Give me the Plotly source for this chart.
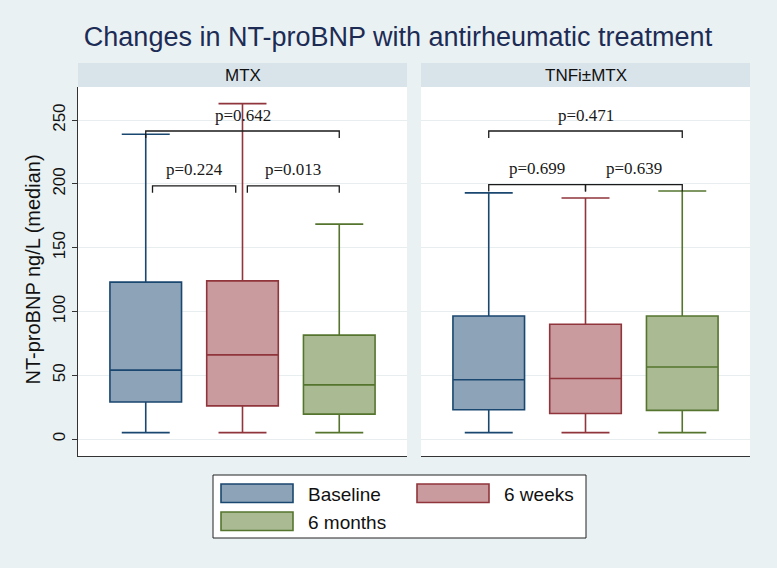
import plotly.graph_objects as go

W, H = 777, 568

PANELS = ["MTX", "TNFi±MTX"]
GROUPS = ["Baseline", "6 weeks", "6 months"]
GROUP_X = [1, 2, 3]

LINE_COLORS = ["#1a476f", "#90353b", "#55752f"]
FILL_COLORS = ["#8da3b8", "#c99a9e", "#aabb93"]

# box statistics (ng/L), in GROUPS order
MTX_LOW = [5, 5, 5]
MTX_Q1 = [29, 26, 19.5]
MTX_MED = [54, 66, 42.5]
MTX_Q3 = [123, 124, 81.5]
MTX_HIGH = [239, 263, 168.5]

TNF_LOW = [5, 5, 5]
TNF_Q1 = [23, 20, 22.5]
TNF_MED = [46.5, 47.5, 56.5]
TNF_Q3 = [96.5, 90, 96.5]
TNF_HIGH = [193, 189, 194.5]

# p-value brackets: x from, x to, bracket height, label
MTX_P_X0 = [1.0, 1.07, 2.05]
MTX_P_X1 = [3.0, 1.93, 3.0]
MTX_P_Y = [241.5, 198.5, 198.5]
MTX_P_TXT = ["p=0.642", "p=0.224", "p=0.013"]

TNF_P_X0 = [1.0, 1.0, 2.0]
TNF_P_X1 = [3.0, 2.0, 3.0]
TNF_P_Y = [241.5, 199.5, 199.5]
TNF_P_TXT = ["p=0.471", "p=0.699", "p=0.639"]

Y_TICKS = [0, 50, 100, 150, 200, 250]

SANS = "Liberation Sans, Arial, sans-serif"
SERIF = "Liberation Serif, Times New Roman, serif"


def px_x(v):
    return v / W


def px_y(v):
    return 1 - v / H


panel_data = [
    (MTX_LOW, MTX_Q1, MTX_MED, MTX_Q3, MTX_HIGH, MTX_P_X0, MTX_P_X1, MTX_P_Y, MTX_P_TXT),
    (TNF_LOW, TNF_Q1, TNF_MED, TNF_Q3, TNF_HIGH, TNF_P_X0, TNF_P_X1, TNF_P_Y, TNF_P_TXT),
]

fig = go.Figure()
annotations = []

for p, (lo, q1, med, q3, hi, bx0, bx1, by, btxt) in enumerate(panel_data):
    xa = "x" if p == 0 else "x2"
    ya = "y" if p == 0 else "y2"
    for g in range(3):
        fig.add_trace(go.Box(
            x=[GROUP_X[g]], q1=[q1[g]], median=[med[g]], q3=[q3[g]],
            lowerfence=[lo[g]], upperfence=[hi[g]],
            width=0.74, whiskerwidth=0.67,
            fillcolor=FILL_COLORS[g],
            line=dict(color=LINE_COLORS[g], width=1.6),
            boxpoints=False, hoverinfo="skip",
            showlegend=False, xaxis=xa, yaxis=ya,
        ))
    for x0, x1, h, t in zip(bx0, bx1, by, btxt):
        fig.add_trace(go.Scatter(
            x=[x0, x0, x1, x1], y=[h - 5.5, h, h, h - 5.5],
            mode="lines", line=dict(color="#1a1a1a", width=1.3),
            hoverinfo="skip", showlegend=False, xaxis=xa, yaxis=ya,
        ))
        annotations.append(dict(
            x=(x0 + x1) / 2, y=h + 12.5, xref=xa, yref=ya, text=t,
            xanchor="center", yanchor="middle",
            showarrow=False, font=dict(family=SERIF, size=17, color="#1a1a1a"),
        ))

# domains in pixels
L_X = (78, 407)
R_X = (421, 750)
PLOT_Y = (87, 456)
HEAD_Y = (63, 87)

shapes = []
for (a, b), name in zip([L_X, R_X], PANELS):
    shapes.append(dict(type="rect", xref="paper", yref="paper",
                       x0=px_x(a), x1=px_x(b), y0=px_y(HEAD_Y[1]), y1=px_y(HEAD_Y[0]),
                       fillcolor="#d9e4ea", line=dict(width=0), layer="below"))
    shapes.append(dict(type="rect", xref="paper", yref="paper",
                       x0=px_x(a), x1=px_x(b), y0=px_y(PLOT_Y[1]), y1=px_y(PLOT_Y[0]),
                       fillcolor="white", line=dict(width=0), layer="below"))
    annotations.append(dict(x=px_x((a + b) / 2), y=px_y((HEAD_Y[0] + HEAD_Y[1]) / 2),
                            xref="paper", yref="paper", text=name, showarrow=False,
                            xanchor="center", yanchor="middle",
                            font=dict(family=SANS, size=17, color="#111")))

# legend drawn by hand (big Stata-style swatches)
shapes.append(dict(type="rect", xref="paper", yref="paper",
                   x0=px_x(213), x1=px_x(586), y0=px_y(538), y1=px_y(475),
                   fillcolor="white", line=dict(color="#222", width=1)))
leg_pos = [(221, 484), (417, 484), (221, 512)]
for g, (lx, ly) in enumerate(leg_pos):
    shapes.append(dict(type="rect", xref="paper", yref="paper",
                       x0=px_x(lx), x1=px_x(lx + 72), y0=px_y(ly + 18.5), y1=px_y(ly),
                       fillcolor=FILL_COLORS[g], line=dict(color=LINE_COLORS[g], width=1.6)))
    annotations.append(dict(x=px_x(lx + 85), y=px_y(ly + 10), xref="paper", yref="paper",
                            text=GROUPS[g], showarrow=False, xanchor="left", yanchor="middle",
                            font=dict(family=SANS, size=19, color="#111")))

annotations.append(dict(x=px_x(32), y=px_y((PLOT_Y[0] + PLOT_Y[1]) / 2 - 2),
                        xref="paper", yref="paper", text="NT-proBNP ng/L (median)",
                        textangle=-90, showarrow=False, xanchor="center", yanchor="middle",
                        font=dict(family=SANS, size=20, color="#111")))

xcommon = dict(range=[0.3, 3.7], showticklabels=False, showgrid=False, zeroline=False,
               showline=True, linecolor="#333", linewidth=1.3, ticks="", fixedrange=True)
ycommon = dict(range=[-13.3, 276], tickvals=Y_TICKS, showgrid=True, gridcolor="#e8eef0",
               gridwidth=1, zeroline=False, domain=[px_y(PLOT_Y[1]), px_y(PLOT_Y[0])])

fig.update_layout(
    width=W, height=H,
    margin=dict(l=0, r=0, t=0, b=0),
    paper_bgcolor="#eaf1f3", plot_bgcolor="rgba(0,0,0,0)",
    title=dict(text="Changes in NT-proBNP with antirheumatic treatment",
               x=px_x(398), xanchor="center", y=px_y(37), yanchor="middle",
               font=dict(family=SANS, size=27, color="#1c2c55")),
    xaxis=dict(domain=[px_x(L_X[0]), px_x(L_X[1])], anchor="y", **xcommon),
    xaxis2=dict(domain=[px_x(R_X[0]), px_x(R_X[1])], anchor="y2", **xcommon),
    yaxis=dict(anchor="x", showline=True, linecolor="#333", linewidth=1.3,
               ticks="outside", ticklen=5, tickcolor="#333", tickangle=-90,
               tickfont=dict(family=SANS, size=17, color="#111"), **ycommon),
    yaxis2=dict(anchor="x2", matches="y", showticklabels=False, showline=False,
                ticks="", **ycommon),
    shapes=shapes,
    annotations=annotations,
    showlegend=False,
)

fig.write_html("out.html", config={"displayModeBar": False},
               post_script="document.body.style.margin='0';")
